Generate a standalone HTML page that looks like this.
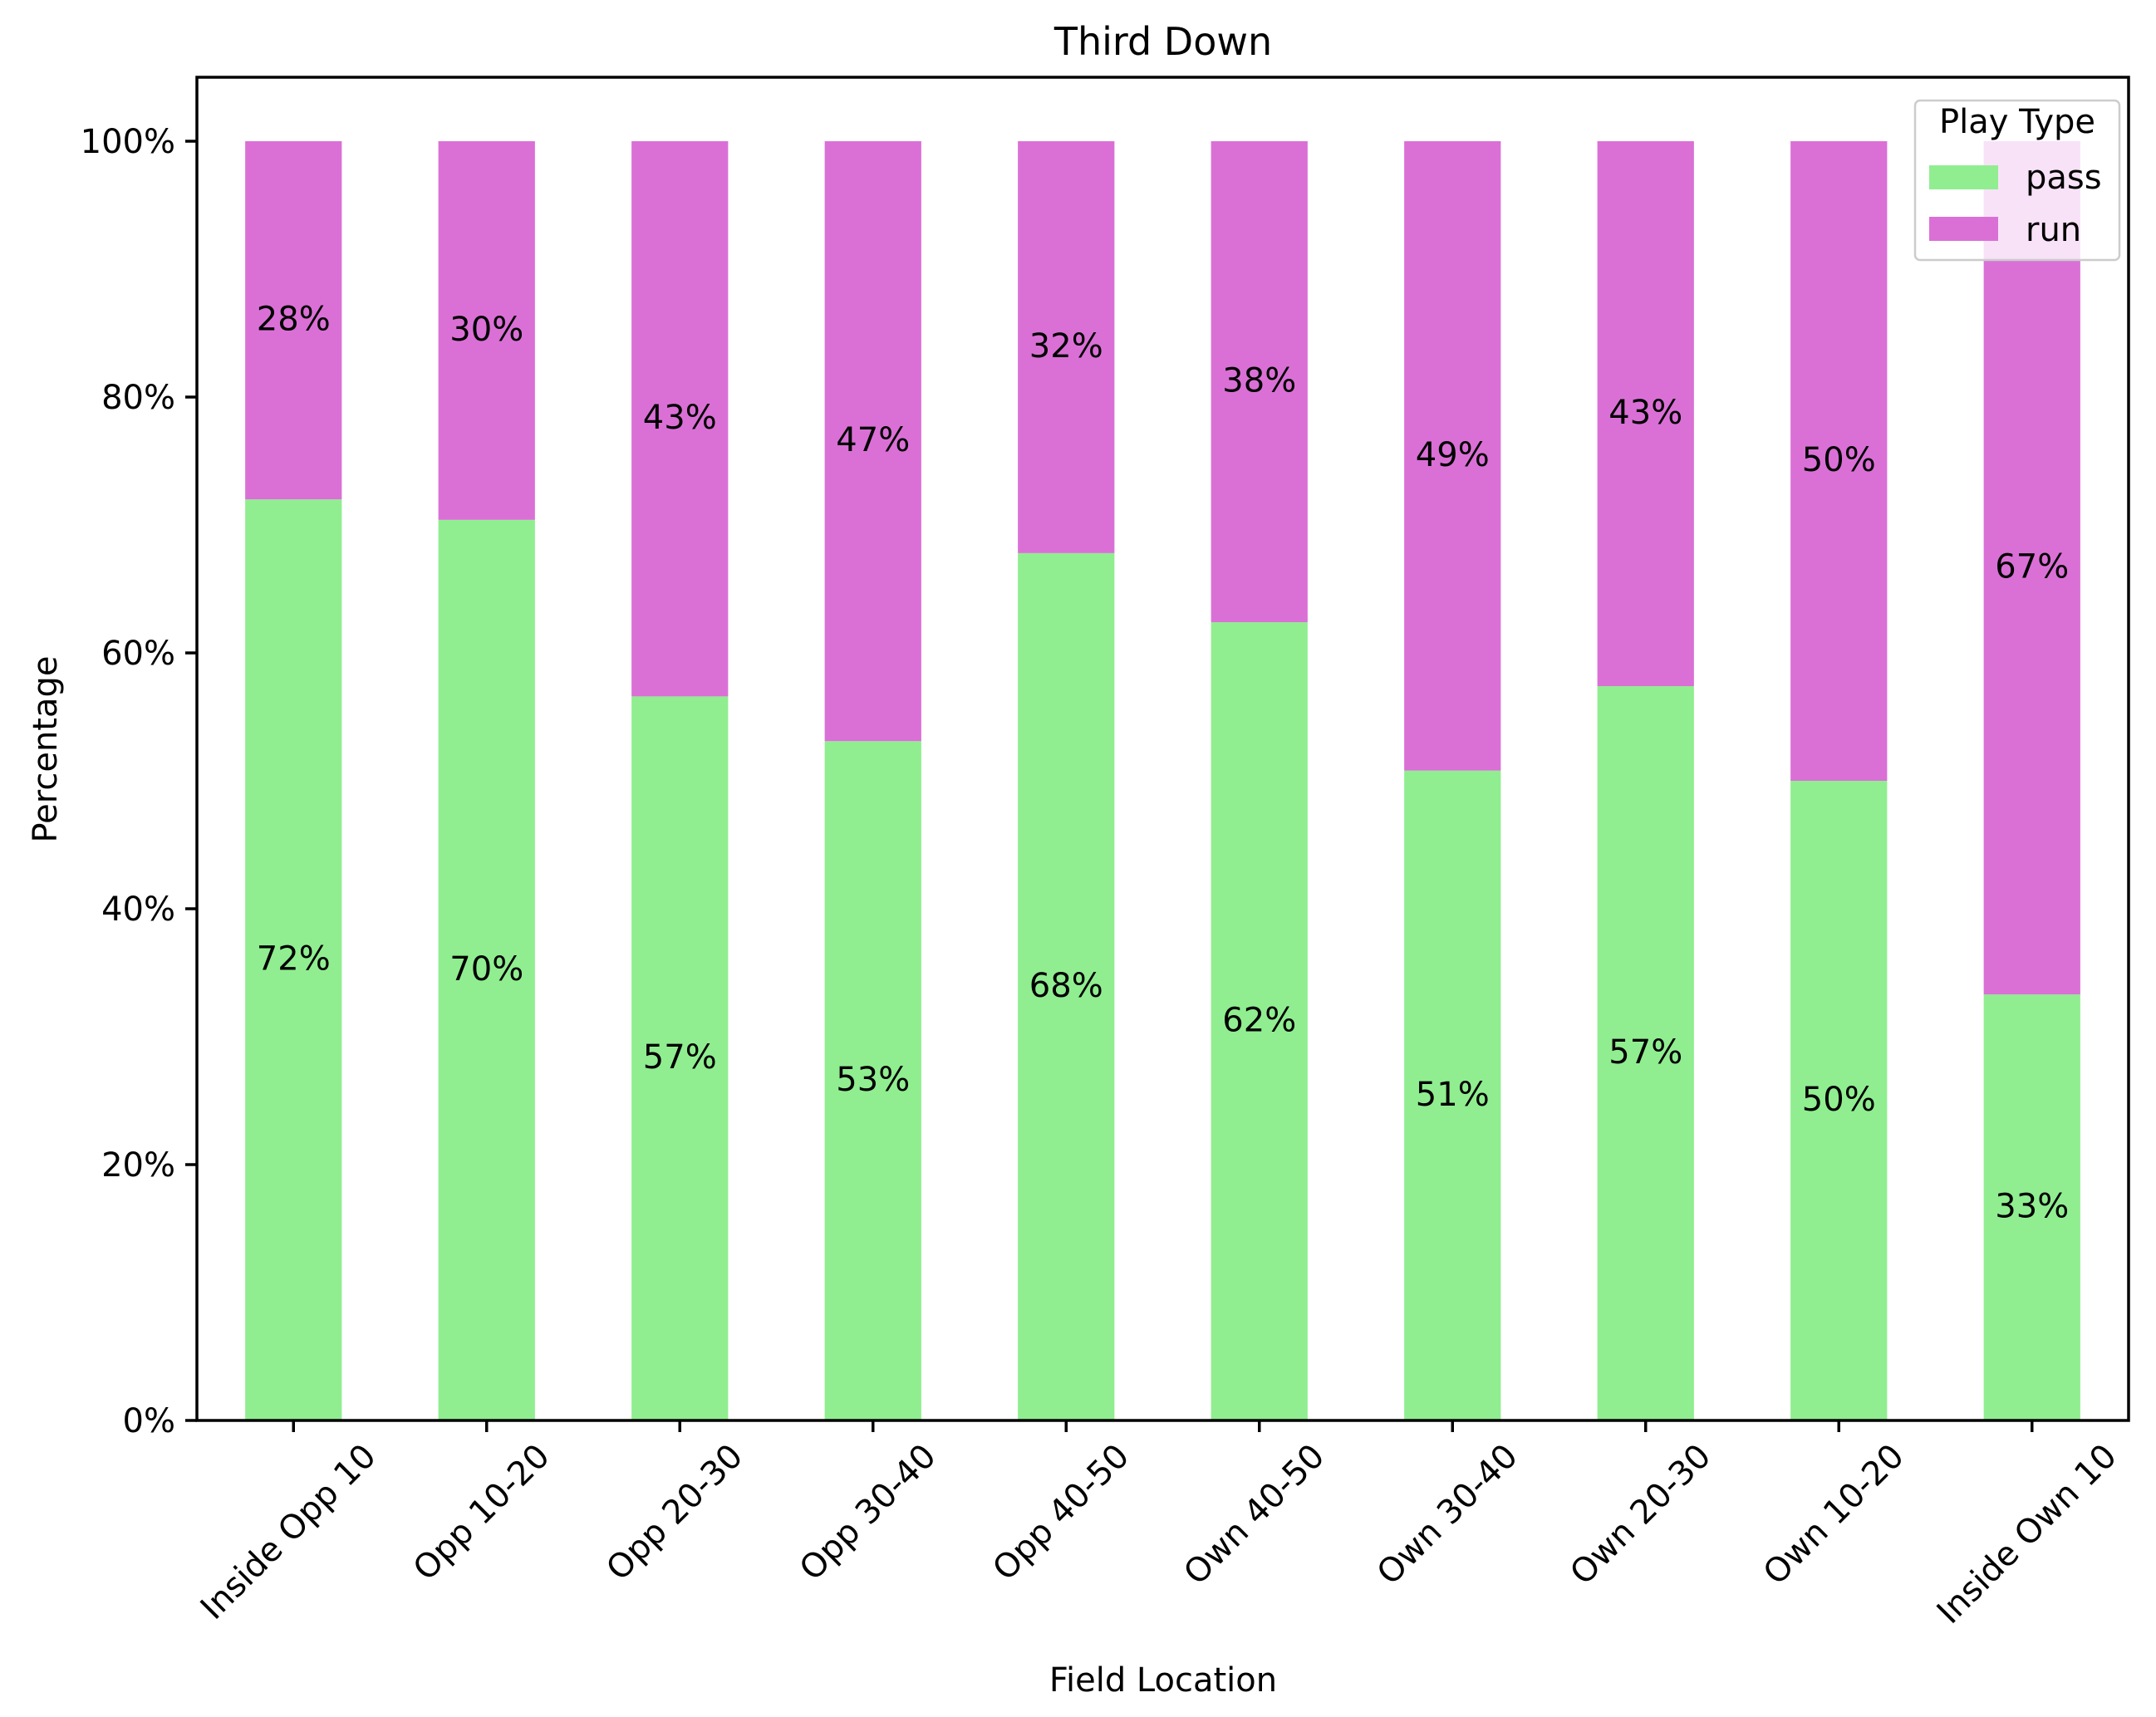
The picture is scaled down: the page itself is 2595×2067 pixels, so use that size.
<!DOCTYPE html>
<html><head><meta charset="utf-8"><style>body{margin:0;background:#fff}svg{display:block;font-family:"DejaVu Sans","Liberation Sans",sans-serif}</style></head>
<body>
<svg id="chart" width="2595" height="2067" viewBox="0 0 2595 2067" xmlns="http://www.w3.org/2000/svg">
<rect width="2595" height="2067" fill="#fff"/>
<text x="1400" y="66" font-size="46" text-anchor="middle">Third Down</text>
<g id="bars"></g>
<g id="yticks"></g>
<g id="xticks"></g>
<rect x="237" y="93" width="2325" height="1617" fill="none" stroke="#000" stroke-width="3.5"/>
<text x="1400" y="2036" font-size="40" text-anchor="middle">Field Location</text>
<text x="0" y="0" font-size="40" text-anchor="middle" transform="translate(68,902) rotate(-90)">Percentage</text>
<g>
<rect x="2305" y="121" width="246" height="192" rx="6" fill="#fff" fill-opacity="0.8" stroke="#ccc" stroke-width="2.5"/>
<text x="2428" y="160" font-size="40" text-anchor="middle">Play Type</text>
<rect x="2322" y="199" width="83" height="29" fill="#90ee90"/>
<text x="2438" y="227" font-size="40">pass</text>
<rect x="2322" y="261" width="83" height="29" fill="#da70d6"/>
<text x="2438" y="290" font-size="40">run</text>
</g>
</svg>
<script>
const categories = ["Inside Opp 10","Opp 10-20","Opp 20-30","Opp 30-40","Opp 40-50","Own 40-50","Own 30-40","Own 20-30","Own 10-20","Inside Own 10"];
const passValues = [72.0,70.4,56.6,53.1,67.8,62.4,50.8,57.4,50.0,33.3];
const runValues = [28.0,29.6,43.4,46.9,32.2,37.6,49.2,42.6,50.0,66.7];
const yTicks = [0,20,40,60,80,100];
const NS = "http://www.w3.org/2000/svg";
const L=237,R=2562,T=93,B=1710;
const x = i => L + (i + 0.5) * (R - L) / categories.length;
const bw = 0.5 * (R - L) / categories.length;
const y = v => B - v / 105 * (B - T);
function mk(tag, attrs, parent){const e=document.createElementNS(NS,tag);for(const k in attrs)e.setAttribute(k,attrs[k]);parent.appendChild(e);return e;}
const bars=document.getElementById('bars'), yt=document.getElementById('yticks'), xt=document.getElementById('xticks');
categories.forEach((c,i)=>{
  const p=passValues[i], r=runValues[i];
  const b1=mk('rect',{x:x(i)-bw/2,y:y(p),width:bw,height:y(0)-y(p),fill:'#90ee90'},bars);
  
  
  const b2=mk('rect',{x:x(i)-bw/2,y:y(p+r),width:bw,height:y(p)-y(p+r),fill:'#da70d6'},bars);
  
  
  const t1=mk('text',{x:x(i),y:(y(0)+y(p))/2+12,'font-size':40,'text-anchor':'middle'},bars);
  t1.textContent=Math.round(p)+'%';
  
  
  const t2=mk('text',{x:x(i),y:(y(p)+y(p+r))/2+12,'font-size':40,'text-anchor':'middle'},bars);
  t2.textContent=Math.round(r)+'%';
  
  
  const tk=mk('line',{x1:x(i),x2:x(i),y1:B,y2:B+14,stroke:'#000','stroke-width':3.5},xt);
  
  
  const lb=mk('text',{x:0,y:0,'font-size':40,'text-anchor':'middle','dominant-baseline':'central'},xt);
  lb.textContent=c;
  
  
  const w=lb.getComputedTextLength();
  const h=(w+40)*Math.SQRT1_2;
  lb.setAttribute('transform','translate('+(x(i)-6)+','+(B+22+h/2)+') rotate(-45)');
});
yTicks.forEach(v=>{
  const tk=mk('line',{x1:L-14,x2:L,y1:y(v),y2:y(v),stroke:'#000','stroke-width':3.5},yt);
  
  
  const lb=mk('text',{x:L-26,y:y(v)+14,'font-size':40,'text-anchor':'end'},yt);
  lb.textContent=v+'%';
  
  
});
</script>
</body></html>
